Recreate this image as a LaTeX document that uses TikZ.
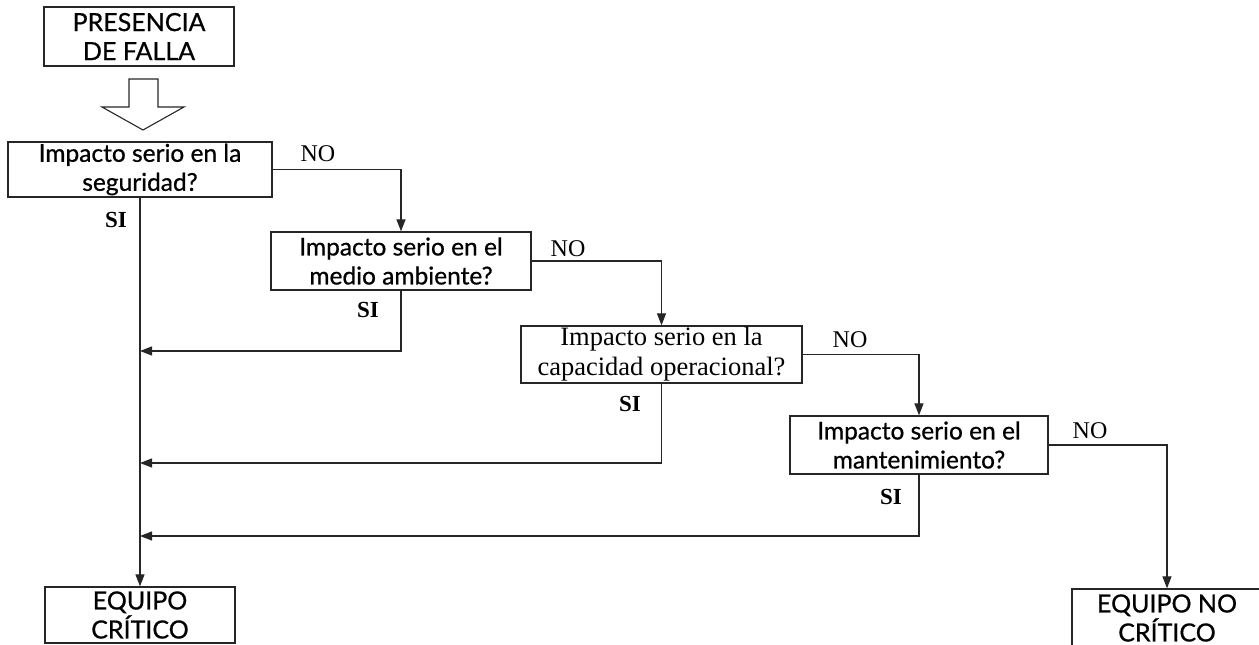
\documentclass[tikz,border=0pt]{standalone}
\usepackage{fontspec}
\setmainfont{Liberation Serif}
\newfontfamily\boxsans[FakeBold=0.7]{Lato}
\usetikzlibrary{arrows.meta}

\tikzset{
  base/.style={draw=black!85, line width=1.3pt, align=center, inner sep=0pt, fill=white},
  sbox/.style={base, font=\boxsans\fontsize{24.5}{29}\selectfont},
  tbox/.style={base, font=\fontsize{26.5}{30}\selectfont},
  capbox/.style={base, font=\boxsans\fontsize{25}{29}\selectfont},
  flow/.style={draw=black!85, line width=1.2pt, -{Triangle[length=12pt,width=9pt]}},
  nolabel/.style={font=\fontsize{24}{24}\selectfont, inner sep=0pt},
  silabel/.style={font=\bfseries\fontsize{23}{23}\selectfont, inner sep=0pt},
}

\begin{document}
\begin{tikzpicture}[x=1pt, y=-1pt]
  \useasboundingbox (0,0) rectangle (1259,645);

  % start box and hollow arrow
  \node[capbox, minimum width=190pt, minimum height=59pt] (start) at (139,36.5) {PRESENCIA\\DE FALLA};
  \draw[black!85, line width=1.1pt, line join=miter]
    (129,79) -- (158,79) -- (158,107) -- (184,107) -- (143,130) -- (102,107) -- (129,107) -- cycle;

  % decision boxes
  \node[sbox, minimum width=264pt, minimum height=55pt] (q1) at (140,169.5) {Impacto serio en la\\seguridad?};
  \node[sbox, minimum width=260pt, minimum height=58pt] (q2) at (401,261) {Impacto serio en el\\medio ambiente?};
  \node[tbox, minimum width=281pt, minimum height=57pt] (q3) at (661.5,354.5) {Impacto serio en la\\capacidad operacional?};
  \node[sbox, minimum width=258pt, minimum height=58pt] (q4) at (919,445) {Impacto serio en el\\mantenimiento?};

  % outcomes
  \node[capbox, minimum width=190pt, minimum height=56pt] (crit) at (140,615) {EQUIPO\\CRÍTICO};
  \node[capbox, minimum width=190pt, minimum height=58pt] (nocrit) at (1167,618) {EQUIPO NO\\CRÍTICO};

  % return points on the main trunk
  \coordinate (r2) at (140,351);
  \coordinate (r3) at (140,463);
  \coordinate (r4) at (140,536);

  % NO branches
  \draw[flow] (q1.east) -| (q2.north);
  \draw[flow] (q2.east) -| (q3.north);
  \draw[flow] (q3.east) -| (q4.north);
  \draw[flow] (q4.east) -| (nocrit.north);

  % SI branches
  \draw[flow] (q1.south) -- (crit.north);
  \draw[flow] (q2.south) |- (r2);
  \draw[flow] (q3.south) |- (r3);
  \draw[flow] (q4.south) |- (r4);

  % labels
  \node[nolabel] (n1) at (318,154) {NO};
  \node[nolabel] (n2) at (568,249) {NO};
  \node[nolabel] (n3) at (850,340) {NO};
  \node[nolabel] (n4) at (1090,431) {NO};
  \node[silabel] (s1) at (116,220) {SI};
  \node[silabel] (s2) at (368,310) {SI};
  \node[silabel] (s3) at (630,404) {SI};
  \node[silabel] (s4) at (891,497) {SI};
\end{tikzpicture}
\end{document}
